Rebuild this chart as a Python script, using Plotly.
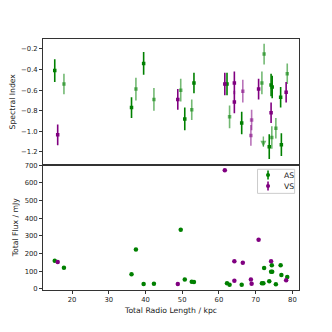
import plotly.graph_objects as go
from plotly.subplots import make_subplots

# AS sources: total radio length (kpc), spectral index, error, total flux (mJy)
as_length = [15.3, 17.8, 36.2, 37.4, 39.5, 42.3, 49.6, 50.7, 52.6, 53.2, 62.2, 62.9,
             66.2, 71.7, 72.3, 73.7, 74.2, 74.5, 74.4, 75.5, 76.8, 77.0, 78.6]
as_index = [-0.41, -0.54, -0.77, -0.59, -0.34, -0.69, -0.60, -0.88, -0.79, -0.53, -0.54, -0.86,
            -0.92, -0.53, -0.25, -1.15, -0.55, -0.57, -1.06, -0.97, -0.67, -1.13, -0.44]
as_err = [0.11, 0.10, 0.10, 0.11, 0.11, 0.11, 0.11, 0.11, 0.10, 0.10, 0.11, 0.11,
          0.11, 0.11, 0.10, 0.12, 0.11, 0.11, 0.11, 0.10, 0.10, 0.11, 0.10]
as_flux = [159, 119, 82, 222, 27, 28, 335, 53, 40, 38, 31, 23,
           23, 31, 118, 42, 97, 97, 133, 25, 133, 78, 66]
as_faint = [False, True, False, True, False, True, True, False, True, False, False, True,
            False, True, True, False, False, False, True, True, False, False, True]

# AS upper limit on spectral index
lim_length = [72.1]
lim_index = [-1.05]
lim_flux = [31]
lim_arrow = [0.1]

# VS sources
vs_length = [16.1, 48.8, 61.6, 64.2, 64.2, 66.5, 68.9, 68.7, 70.8, 74.2, 78.3]
vs_index = [-1.035, -0.69, -0.54, -0.53, -0.715, -0.61, -0.89, -1.04, -0.59, -0.82, -0.62]
vs_err = [0.10, 0.10, 0.11, 0.11, 0.11, 0.11, 0.10, 0.10, 0.10, 0.10, 0.10]
vs_flux = [152, 27, 671, 156, 46, 148, 28, 53, 278, 156, 48]
vs_faint = [False, False, False, False, False, True, True, True, False, False, False]

legend_labels = ["AS", "VS"]

GREEN = "rgb(0,128,0)"
GREEN_L = "rgba(0,128,0,0.55)"
PURPLE = "rgb(128,0,128)"
PURPLE_L = "rgba(128,0,128,0.55)"
FONT = "DejaVu Sans"
TICK_SIZE = 6.8
TITLE_SIZE = 7.7

fig = make_subplots(rows=2, cols=1, shared_xaxes=True, vertical_spacing=0)


def add_index(xs, ys, es, faint, want, color):
    sel = [i for i in range(len(xs)) if faint[i] == want]
    fig.add_trace(
        go.Scatter(
            x=[xs[i] for i in sel],
            y=[ys[i] for i in sel],
            mode="markers",
            showlegend=False,
            marker=dict(symbol="square", size=3.5, color=color),
            error_y=dict(type="data", array=[es[i] for i in sel], color=color,
                         thickness=1.6, width=0),
        ),
        row=1, col=1,
    )


add_index(as_length, as_index, as_err, as_faint, False, GREEN)
add_index(as_length, as_index, as_err, as_faint, True, GREEN_L)
add_index(vs_length, vs_index, vs_err, vs_faint, False, PURPLE)
add_index(vs_length, vs_index, vs_err, vs_faint, True, PURPLE_L)

# upper limit arrow
fig.add_trace(
    go.Scatter(
        x=lim_length, y=lim_index, mode="lines", showlegend=False,
        error_y=dict(type="data", symmetric=False, array=[0], arrayminus=lim_arrow,
                     color=GREEN_L, thickness=1.4, width=0),
    ),
    row=1, col=1,
)
fig.add_trace(
    go.Scatter(
        x=lim_length, y=[lim_index[i] - lim_arrow[i] for i in range(len(lim_index))],
        mode="markers", showlegend=False,
        marker=dict(symbol="arrow-down", size=6, color=GREEN_L, line=dict(width=0)),
    ),
    row=1, col=1,
)

# flux panel
fig.add_trace(
    go.Scatter(x=as_length + lim_length, y=as_flux + lim_flux, mode="markers", name="AS",
               showlegend=False, marker=dict(size=4.5, color=GREEN)),
    row=2, col=1,
)
fig.add_trace(
    go.Scatter(x=vs_length, y=vs_flux, mode="markers", name="VS",
               showlegend=False, marker=dict(size=4.5, color=PURPLE)),
    row=2, col=1,
)

# compact matplotlib-like legend box (plotly's own legend rows are too tall)
fig.add_shape(type="rect", xref="paper", yref="paper", x0=0.838, x1=0.983, y0=0.385, y1=0.481,
              line=dict(color="#cccccc", width=1), fillcolor="rgba(255,255,255,0.85)", layer="above")
for k, (label, color) in enumerate(zip(legend_labels, [GREEN, PURPLE])):
    yc = 0.458 - k * 0.044
    fig.add_shape(type="line", xref="paper", yref="paper", x0=0.879, x1=0.879,
                  y0=yc - 0.018, y1=yc + 0.018, line=dict(color=color, width=1.6), layer="above")
    fig.add_shape(type="circle", xref="paper", yref="paper", x0=0.879 - 0.008, x1=0.879 + 0.008,
                  y0=yc - 0.008, y1=yc + 0.008, line=dict(width=0), fillcolor=color, layer="above")
    fig.add_annotation(text=label, xref="paper", yref="paper", x=0.932, y=yc,
                       xanchor="left", yanchor="middle", showarrow=False,
                       font=dict(family=FONT, size=TITLE_SIZE, color="#222"))

axis_common = dict(
    showline=True, linecolor="#333", linewidth=1, mirror=True,
    ticks="outside", ticklen=3, tickwidth=0.8, tickcolor="#333",
    showgrid=False, zeroline=False,
    tickfont=dict(family=FONT, size=TICK_SIZE, color="#222"),
)

fig.update_xaxes(**axis_common, range=[12.1, 81.8], dtick=10, tick0=0)
fig.update_xaxes(showticklabels=False, ticks="", row=1, col=1)
fig.update_xaxes(title=dict(text="Total Radio Length / kpc", standoff=4,
                            font=dict(family=FONT, size=TITLE_SIZE, color="#222")), row=2, col=1)

fig.update_yaxes(**axis_common)
fig.update_yaxes(range=[-1.323, -0.103], dtick=0.2, tick0=0, tickformat=".1f",
                 title=dict(text="Spectral Index", standoff=4,
                            font=dict(family=FONT, size=TITLE_SIZE, color="#222")),
                 row=1, col=1)
fig.update_yaxes(range=[-7, 704], dtick=100, tick0=0,
                 title=dict(text="Total Flux / mJy", standoff=4,
                            font=dict(family=FONT, size=TITLE_SIZE, color="#222")),
                 row=2, col=1)

fig.update_layout(
    width=332, height=332,
    margin=dict(l=41, r=33, t=39, b=42),
    paper_bgcolor="white", plot_bgcolor="white",
    font=dict(family=FONT, size=TICK_SIZE, color="#222"),
    showlegend=False,
)

fig.write_html("out.html", config={"displayModeBar": False},
               post_script="document.body.style.margin='0px';")
